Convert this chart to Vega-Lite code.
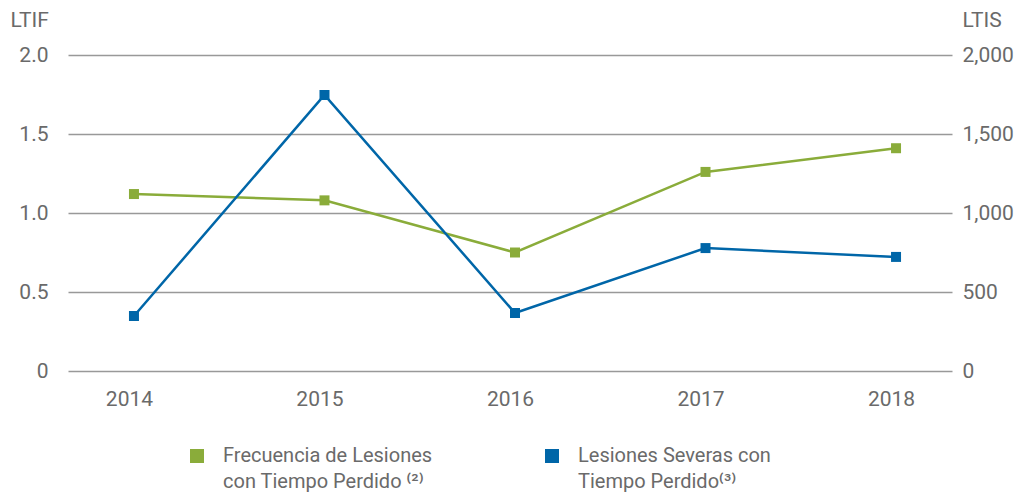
{
  "$schema": "https://vega.github.io/schema/vega-lite/v6.json",
  "width": 884,
  "height": 316,
  "autosize": "none",
  "padding": {"left": 68, "top": 55, "right": 72, "bottom": 124},
  "background": "white",
  "config": {
    "view": {"stroke": null},
    "font": "Roboto",
    "axis": {"labelFont": "Roboto", "labelFontSize": 21, "labelColor": "#6a6a6a", "titleFont": "Roboto", "titleFontSize": 21, "titleColor": "#6a6a6a", "titleFontWeight": "normal", "ticks": false, "domain": false}
  },
  "data": {
    "values": [
      {"year": "2014", "serie": "Frecuencia de Lesiones|con Tiempo Perdido ⁽²⁾", "tipo": "LTIF", "valor": 1.12},
      {"year": "2015", "serie": "Frecuencia de Lesiones|con Tiempo Perdido ⁽²⁾", "tipo": "LTIF", "valor": 1.08},
      {"year": "2016", "serie": "Frecuencia de Lesiones|con Tiempo Perdido ⁽²⁾", "tipo": "LTIF", "valor": 0.75},
      {"year": "2017", "serie": "Frecuencia de Lesiones|con Tiempo Perdido ⁽²⁾", "tipo": "LTIF", "valor": 1.26},
      {"year": "2018", "serie": "Frecuencia de Lesiones|con Tiempo Perdido ⁽²⁾", "tipo": "LTIF", "valor": 1.41},
      {"year": "2014", "serie": "Lesiones Severas con|Tiempo Perdido⁽³⁾", "tipo": "LTIS", "valor": 348},
      {"year": "2015", "serie": "Lesiones Severas con|Tiempo Perdido⁽³⁾", "tipo": "LTIS", "valor": 1747},
      {"year": "2016", "serie": "Lesiones Severas con|Tiempo Perdido⁽³⁾", "tipo": "LTIS", "valor": 367},
      {"year": "2017", "serie": "Lesiones Severas con|Tiempo Perdido⁽³⁾", "tipo": "LTIS", "valor": 778},
      {"year": "2018", "serie": "Lesiones Severas con|Tiempo Perdido⁽³⁾", "tipo": "LTIS", "valor": 722}
    ]
  },
  "encoding": {
    "x": {"field": "year", "type": "ordinal", "scale": {"type": "point", "padding": 0.32}, "axis": {"title": null, "labelAngle": 0, "labelPadding": 17, "grid": false}},
    "color": {
      "field": "serie", "type": "nominal",
      "scale": {"domain": ["Frecuencia de Lesiones|con Tiempo Perdido ⁽²⁾", "Lesiones Severas con|Tiempo Perdido⁽³⁾"], "range": ["#8aac3a", "#0066a8"]},
      "legend": {"title": null, "orient": "none", "legendX": 119, "legendY": 391, "direction": "horizontal", "columns": 2, "columnPadding": 109, "symbolType": "square", "symbolSize": 196, "symbolStrokeWidth": 0, "symbolOffset": 0, "labelFont": "Roboto", "labelFontSize": 20, "labelColor": "#6a6a6a", "labelLimit": 400, "labelOffset": 16, "labelExpr": "split(datum.label, '|')", "labelBaseline": "middle",
        "encode": {"symbols": {"update": {"fill": {"scale": "color", "field": "value"}}}, "labels": {"update": {"lineHeight": {"value": 26}}}}}
    }
  },
  "layer": [
    {
      "transform": [{"filter": "datum.tipo == 'LTIF'"}],
      "encoding": {
        "y": {"field": "valor", "type": "quantitative", "scale": {"domain": [0, 2]}, "axis": {"orient": "left", "values": [0, 0.5, 1, 1.5, 2], "labelExpr": "datum.value == 0 ? '0' : format(datum.value, '.1f')", "labelPadding": 20, "grid": true, "gridColor": "#999999", "gridWidth": 1.5, "gridOpacity": 1, "title": "LTIF", "titleAngle": 0, "titleAlign": "left", "titleBaseline": "middle", "titleX": -58, "titleY": -35}}
      },
      "layer": [
        {"mark": {"type": "line", "strokeWidth": 2.5, "xOffset": 5}},
        {"mark": {"type": "point", "filled": true, "shape": "square", "size": 100, "opacity": 1, "xOffset": 5}}
      ]
    },
    {
      "transform": [{"filter": "datum.tipo == 'LTIS'"}],
      "encoding": {
        "y": {"field": "valor", "type": "quantitative", "scale": {"domain": [0, 2000]}, "axis": {"orient": "right", "values": [0, 500, 1000, 1500, 2000], "format": ",d", "labelPadding": 10, "grid": false, "title": "LTIS", "titleAngle": 0, "titleAlign": "left", "titleBaseline": "middle", "titleX": 10, "titleY": -35}}
      },
      "layer": [
        {"mark": {"type": "line", "strokeWidth": 2.5, "xOffset": 5}},
        {"mark": {"type": "point", "filled": true, "shape": "square", "size": 100, "opacity": 1, "xOffset": 5}}
      ]
    }
  ],
  "resolve": {"scale": {"y": "independent"}}
}
